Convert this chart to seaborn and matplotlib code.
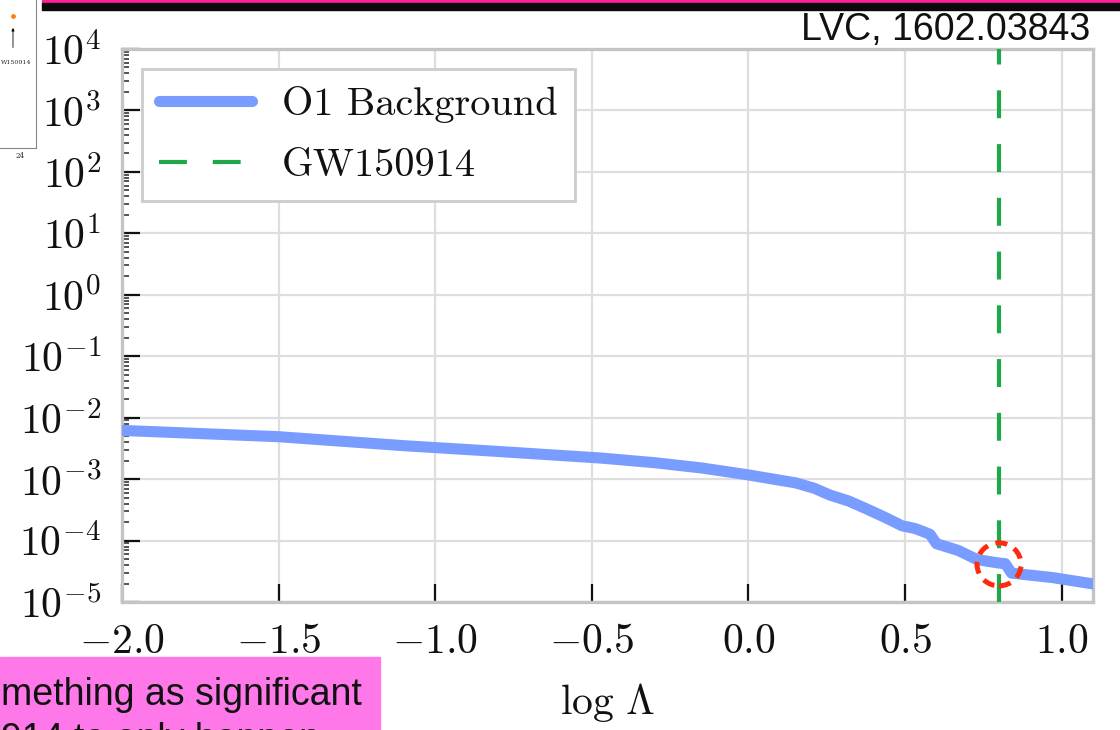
import numpy as np
import pandas as pd
import matplotlib
matplotlib.use("Agg")
import matplotlib.pyplot as plt
import seaborn as sns
from matplotlib.ticker import FuncFormatter, LogLocator, FixedLocator, NullFormatter
from matplotlib.patches import Ellipse, Rectangle
from matplotlib.transforms import ScaledTranslation

# ---------------- data ----------------
log_lambda = [-2.05, -2.00, -1.50, -1.10, -0.79, -0.47, -0.30, -0.15, 0.00, 0.10,
              0.15, 0.21, 0.26, 0.32, 0.37, 0.42, 0.45, 0.49, 0.53, 0.55,
              0.58, 0.60, 0.67, 0.73, 0.80, 0.82, 0.84, 0.97, 1.12]
far = [6.3e-3, 6.2e-3, 4.9e-3, 3.5e-3, 2.8e-3, 2.2e-3, 1.85e-3, 1.52e-3, 1.17e-3, 9.6e-4,
       8.7e-4, 7.1e-4, 5.5e-4, 4.4e-4, 3.4e-4, 2.6e-4, 2.2e-4, 1.74e-4, 1.58e-4, 1.45e-4,
       1.26e-4, 8.9e-5, 6.9e-5, 4.9e-5, 4.3e-5, 4.2e-5, 2.95e-5, 2.5e-5, 1.9e-5]
event_log_lambda = 0.80
event_far = 4.1e-5
x_ticks = [-2.0, -1.5, -1.0, -0.5, 0.0, 0.5, 1.0]
y_decades = [-5, -4, -3, -2, -1, 0, 1, 2, 3, 4]
series_labels = ["O1 Background", "GW150914"]
thumb_x = [23.06]
thumb_y = [0.89]

df = pd.DataFrame({"logL": log_lambda, "FAR": far})

# ---------------- style ----------------
sns.set_theme(style="whitegrid")
plt.rcParams["mathtext.fontset"] = "cm"
plt.rcParams["font.family"] = ["DejaVu Sans"]

BLUE = "#789cff"
GREEN = "#1ea84a"
FS = 30
LEG_FS = 29

fig = plt.figure(figsize=(11.2, 7.3), dpi=100)
fig.patch.set_facecolor("white")
ax = fig.add_axes([122 / 1120, 1 - 602 / 730, (1093 - 122) / 1120, (602 - 49) / 730])
ax.set_facecolor("white")

sns.lineplot(data=df, x="logL", y="FAR", ax=ax, color=BLUE, lw=8.0,
             label=series_labels[0], solid_capstyle="round", solid_joinstyle="round", zorder=3)
ax.axvline(event_log_lambda, color=GREEN, lw=3.0, dashes=(6.7, 6.2),
           label=series_labels[1], zorder=4)

ax.set_yscale("log")
ax.set_xlim(-2.0, 1.1)
ax.set_ylim(1e-5, 1e4)

# red dashed circle around the event
circ = Ellipse((0, 0), width=0.44, height=0.43, fill=False, edgecolor="#ff2a10",
               lw=3.6, linestyle=(0, (2.4, 1.6)), zorder=6,
               transform=fig.dpi_scale_trans + ScaledTranslation(event_log_lambda, event_far, ax.transData))
ax.add_artist(circ)

# ticks
ax.xaxis.set_major_locator(FixedLocator(x_ticks))
ax.xaxis.set_major_formatter(FuncFormatter(lambda v, p: r"$%.1f$" % v))
ax.yaxis.set_major_locator(FixedLocator([10.0 ** d for d in y_decades]))
ax.yaxis.set_major_formatter(FuncFormatter(lambda v, p: r"$10^{%d}$" % int(round(np.log10(v)))))
ax.yaxis.set_minor_locator(LogLocator(base=10, subs=np.arange(2, 10), numticks=30))
ax.yaxis.set_minor_formatter(NullFormatter())

ax.tick_params(axis="both", which="major", direction="in", length=13, width=1.6,
               color="#111111", labelsize=FS, labelcolor="#111111")
ax.tick_params(axis="x", which="major", pad=13, bottom=True)
ax.tick_params(axis="y", which="major", pad=15, left=True)
ax.tick_params(axis="y", which="minor", direction="in", length=5, width=1.1,
               color="#222222", left=True)
ax.tick_params(axis="x", which="minor", bottom=False)

ax.grid(True, which="major", color="#dedede", lw=1.6)
ax.grid(False, which="minor")
for s in ax.spines.values():
    s.set_color("#c4c4c4")
    s.set_linewidth(2.4)
    s.set_visible(True)

ax.set_xlabel(r"$\log\,\Lambda$", fontsize=FS, color="#111111", labelpad=14)
ax.set_ylabel("")

leg = ax.legend(loc="upper left", fancybox=False, framealpha=1, edgecolor="#cccccc",
                prop={"family": "cmr10", "size": LEG_FS}, handlelength=2.3,
                handletextpad=0.75, borderpad=0.42, labelspacing=0.62,
                borderaxespad=0.5)
leg.get_frame().set_linewidth(2.0)
for t in leg.get_texts():
    t.set_color("#111111")

# ---------------- slide decorations ----------------
fig.text(1090 / 1120, 1 - 40 / 730, "LVC, 1602.03843", ha="right", va="baseline",
         fontsize=27, family="Liberation Sans", color="#111111")
fig.patches.append(Rectangle((42 / 1120, 1 - 3 / 730), 1, 3 / 730, transform=fig.transFigure,
                             color="#ff1f9a", zorder=10))
fig.patches.append(Rectangle((42 / 1120, 1 - 10 / 730), 1, 7 / 730, transform=fig.transFigure,
                             color="#0a0a0a", zorder=10))
fig.patches.append(Rectangle((0, 0), 380 / 1120, 73 / 730, transform=fig.transFigure,
                             color="#ff78ea", zorder=10))
fig.text(1 / 1120, 1 - 705 / 730, "mething as significant", ha="left", va="baseline",
         fontsize=27, family="Liberation Sans", color="#111111", zorder=11)
fig.text(1 / 1120, 1 - 750 / 730, "914 to only happen", ha="left", va="baseline",
         fontsize=27, family="Liberation Sans", color="#111111", zorder=11)

# thumbnail of the previous slide (top-left)
tax = fig.add_axes([0, 1 - 148 / 730, 36 / 1120, 148 / 730])
tax.set_facecolor("white")
tax.set_xlim(21.4, 26.0)
tax.set_ylim(0, 1)
tax.scatter(thumb_x, thumb_y, s=6, color="#ff7f0e", zorder=3)
tax.annotate("", xy=(thumb_x[0], thumb_y[0] - 0.06), xytext=(thumb_x[0], thumb_y[0] - 0.23),
             arrowprops=dict(arrowstyle="-|>", color="black", lw=0.6, mutation_scale=4))
tax.text(0.02, thumb_y[0] - 0.31, "W150914", fontsize=4.5, ha="left", va="center",
         family="DejaVu Serif", transform=tax.get_yaxis_transform())
tax.set_xticks([24])
tax.set_xticklabels(["24"], fontsize=5, family="DejaVu Serif")
tax.set_yticks([])
tax.tick_params(axis="x", length=2, width=0.5, pad=1, color="#666666")
tax.grid(False)
for k, s in tax.spines.items():
    s.set_visible(k in ("right", "bottom"))
    s.set_color("#888888")
    s.set_linewidth(0.8)

fig.savefig("out.png", dpi=100)
